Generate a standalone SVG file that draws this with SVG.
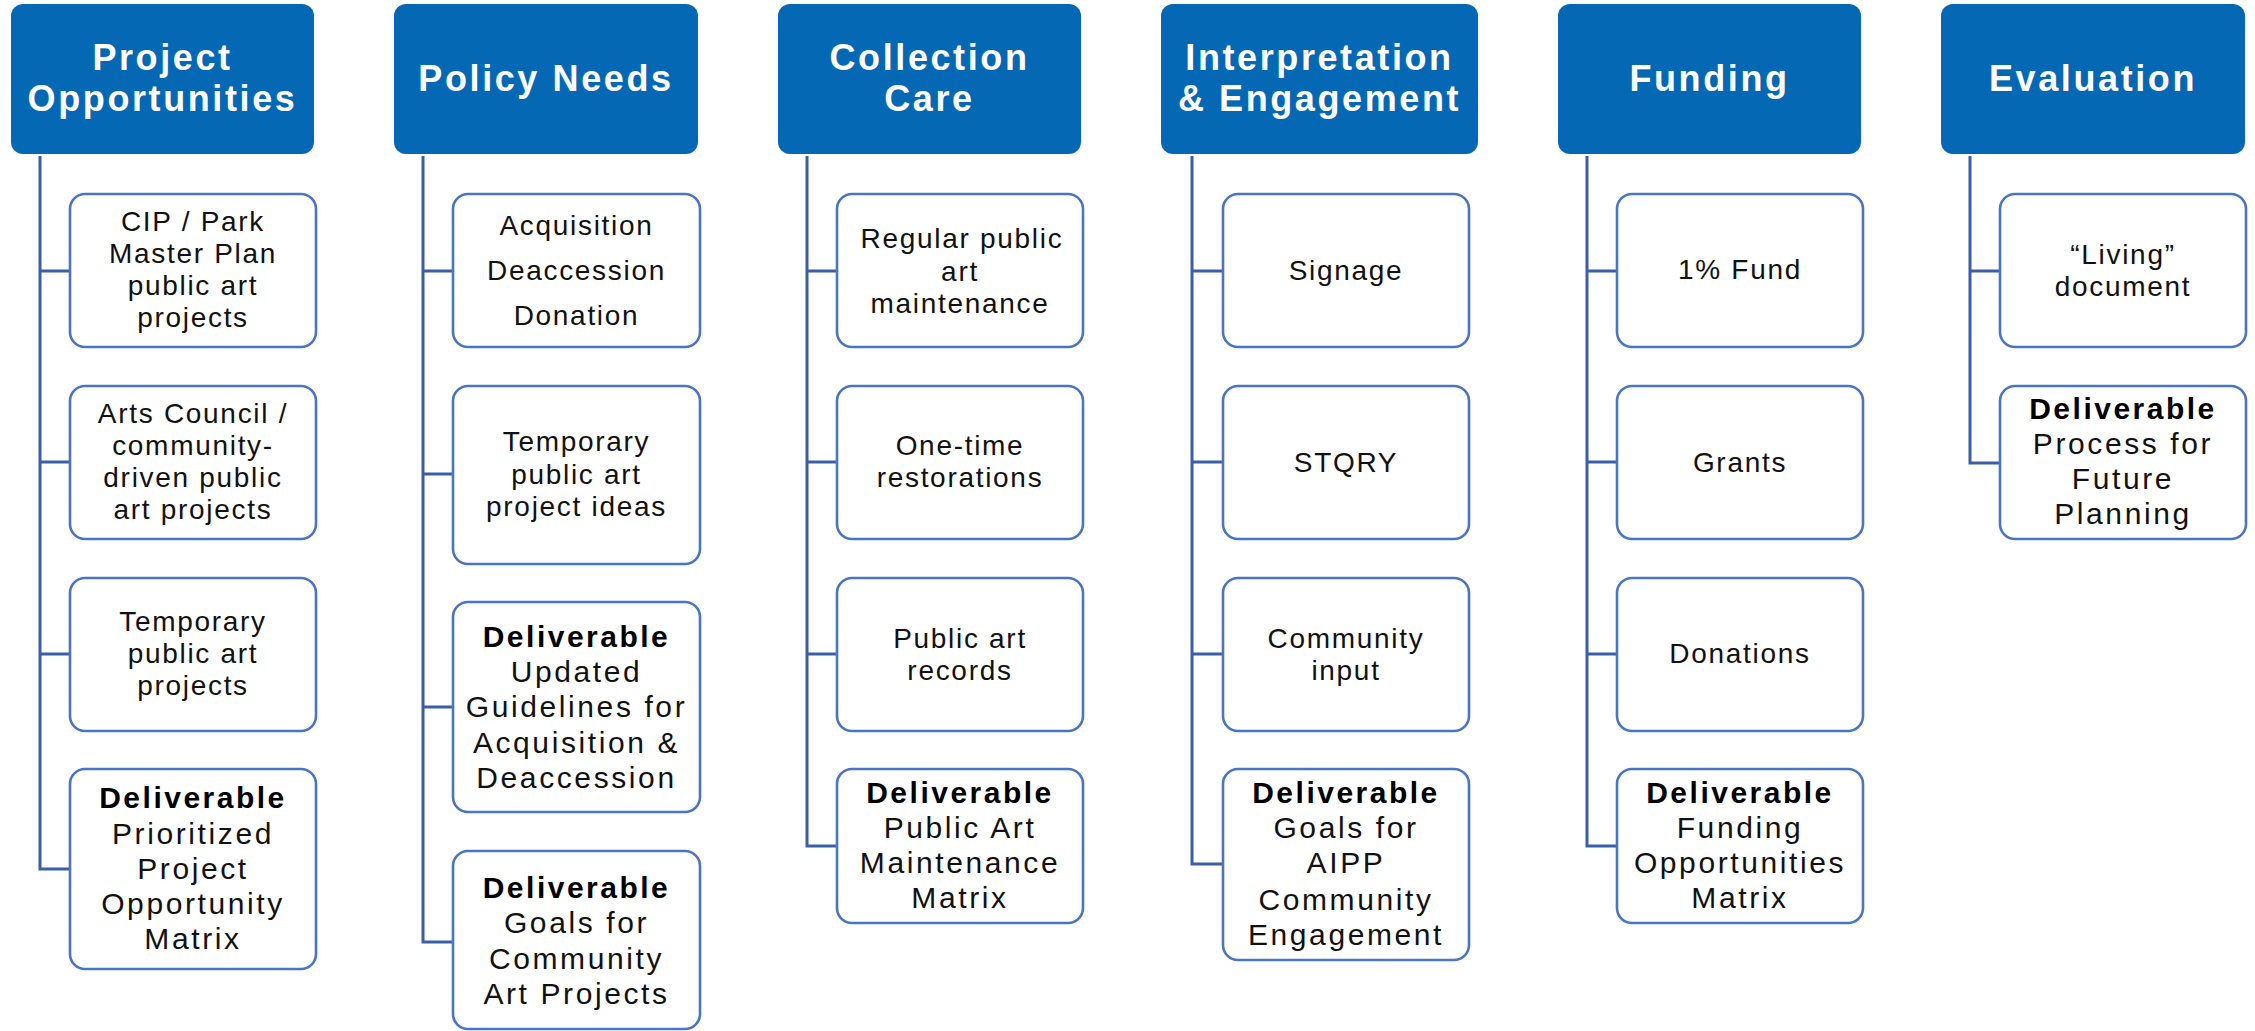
<svg xmlns="http://www.w3.org/2000/svg" width="2255" height="1031" viewBox="0 0 2255 1031">
<style>
.hdr rect{fill:#0468b4;}
.hdr text{fill:#ffffff;font-family:"Liberation Sans",Arial,sans-serif;font-weight:700;font-size:36px;letter-spacing:2.6px;text-anchor:middle;}
.box rect{fill:#ffffff;stroke:#4a74c4;stroke-width:2.6;}
.box text{fill:#111111;font-family:"Liberation Sans",Arial,sans-serif;font-size:28px;letter-spacing:1.7px;text-anchor:middle;}
.box text.d{font-size:30px;letter-spacing:2.6px;}
.box .b{font-weight:700;letter-spacing:2.5px;fill:#000;}
#connectors path{fill:none;stroke:#3c5ea8;stroke-width:3;}
</style>
<rect width="2255" height="1031" fill="#ffffff"/>
<g id="connectors">
<path d="M40 156V869H70M40 271H70M40 462H70M40 654H70"/>
<path d="M423 156V942H453M423 271H453M423 474H453M423 707H453"/>
<path d="M807 156V846H837M807 271H837M807 462H837M807 654H837"/>
<path d="M1192 156V864H1223M1192 271H1223M1192 462H1223M1192 654H1223"/>
<path d="M1587 156V846H1617M1587 271H1617M1587 462H1617M1587 654H1617"/>
<path d="M1970 156V463H2000M1970 271H2000"/>
</g>
<!-- Column 1 -->
<g id="h-project" class="hdr"><rect x="11" y="4" width="303" height="150" rx="12"/><text><tspan x="162.5" y="69.5">Project</tspan><tspan x="162.5" y="110.5">Opportunities</tspan></text></g>
<g id="n-cip" class="box"><rect x="70" y="194" width="246" height="153" rx="15"/><text><tspan x="193" y="231">CIP / Park</tspan><tspan x="193" y="263">Master Plan</tspan><tspan x="193" y="295">public art</tspan><tspan x="193" y="327">projects</tspan></text></g>
<g id="n-arts" class="box"><rect x="70" y="386" width="246" height="153" rx="15"/><text><tspan x="193" y="423">Arts Council /</tspan><tspan x="193" y="455">community-</tspan><tspan x="193" y="487">driven public</tspan><tspan x="193" y="519">art projects</tspan></text></g>
<g id="n-temp1" class="box"><rect x="70" y="578" width="246" height="153" rx="15"/><text><tspan x="193" y="631">Temporary</tspan><tspan x="193" y="663">public art</tspan><tspan x="193" y="695">projects</tspan></text></g>
<g id="n-del1" class="box"><rect x="70" y="769" width="246" height="200" rx="15"/><text class="d"><tspan class="b" x="193" y="808">Deliverable</tspan><tspan x="193" y="844">Prioritized</tspan><tspan x="193" y="879">Project</tspan><tspan x="193" y="914">Opportunity</tspan><tspan x="193" y="949">Matrix</tspan></text></g>
<!-- Column 2 -->
<g id="h-policy" class="hdr"><rect x="394" y="4" width="304" height="150" rx="12"/><text><tspan x="546" y="91">Policy Needs</tspan></text></g>
<g id="n-acq" class="box"><rect x="453" y="194" width="247" height="153" rx="15"/><text><tspan x="576.5" y="235">Acquisition</tspan><tspan x="576.5" y="280">Deaccession</tspan><tspan x="576.5" y="325">Donation</tspan></text></g>
<g id="n-temp2" class="box"><rect x="453" y="386" width="247" height="178" rx="15"/><text><tspan x="576.5" y="451">Temporary</tspan><tspan x="576.5" y="484">public art</tspan><tspan x="576.5" y="516">project ideas</tspan></text></g>
<g id="n-del2a" class="box"><rect x="453" y="602" width="247" height="210" rx="15"/><text class="d"><tspan class="b" x="576.5" y="647">Deliverable</tspan><tspan x="576.5" y="682">Updated</tspan><tspan x="576.5" y="717">Guidelines for</tspan><tspan x="576.5" y="753">Acquisition &amp;</tspan><tspan x="576.5" y="788">Deaccession</tspan></text></g>
<g id="n-del2b" class="box"><rect x="453" y="851" width="247" height="178" rx="15"/><text class="d"><tspan class="b" x="576.5" y="898">Deliverable</tspan><tspan x="576.5" y="933">Goals for</tspan><tspan x="576.5" y="969">Community</tspan><tspan x="576.5" y="1004">Art Projects</tspan></text></g>
<!-- Column 3 -->
<g id="h-collection" class="hdr"><rect x="778" y="4" width="303" height="150" rx="12"/><text><tspan x="929.5" y="69.5">Collection</tspan><tspan x="929.5" y="110.5">Care</tspan></text></g>
<g id="n-regular" class="box"><rect x="837" y="194" width="246" height="153" rx="15"/><text><tspan x="962" y="248">Regular public</tspan><tspan x="960" y="281">art</tspan><tspan x="960" y="313">maintenance</tspan></text></g>
<g id="n-onetime" class="box"><rect x="837" y="386" width="246" height="153" rx="15"/><text><tspan x="960" y="455">One-time</tspan><tspan x="960" y="487">restorations</tspan></text></g>
<g id="n-records" class="box"><rect x="837" y="578" width="246" height="153" rx="15"/><text><tspan x="960" y="648">Public art</tspan><tspan x="960" y="680">records</tspan></text></g>
<g id="n-del3" class="box"><rect x="837" y="769" width="246" height="154" rx="15"/><text class="d"><tspan class="b" x="960" y="803">Deliverable</tspan><tspan x="960" y="838">Public Art</tspan><tspan x="960" y="873">Maintenance</tspan><tspan x="960" y="908">Matrix</tspan></text></g>
<!-- Column 4 -->
<g id="h-interp" class="hdr"><rect x="1161" y="4" width="317" height="150" rx="12"/><text><tspan x="1319.5" y="69.5">Interpretation</tspan><tspan x="1319.5" y="110.5">&amp; Engagement</tspan></text></g>
<g id="n-signage" class="box"><rect x="1223" y="194" width="246" height="153" rx="15"/><text><tspan x="1346" y="280">Signage</tspan></text></g>
<g id="n-stqry" class="box"><rect x="1223" y="386" width="246" height="153" rx="15"/><text><tspan x="1346" y="472">STQRY</tspan></text></g>
<g id="n-community" class="box"><rect x="1223" y="578" width="246" height="153" rx="15"/><text><tspan x="1346" y="648">Community</tspan><tspan x="1346" y="680">input</tspan></text></g>
<g id="n-del4" class="box"><rect x="1223" y="769" width="246" height="191" rx="15"/><text class="d"><tspan class="b" x="1346" y="803">Deliverable</tspan><tspan x="1346" y="838">Goals for</tspan><tspan x="1346" y="873">AIPP</tspan><tspan x="1346" y="910">Community</tspan><tspan x="1346" y="945">Engagement</tspan></text></g>
<!-- Column 5 -->
<g id="h-funding" class="hdr"><rect x="1558" y="4" width="303" height="150" rx="12"/><text><tspan x="1709.5" y="91">Funding</tspan></text></g>
<g id="n-fund" class="box"><rect x="1617" y="194" width="246" height="153" rx="15"/><text><tspan x="1740" y="279">1% Fund</tspan></text></g>
<g id="n-grants" class="box"><rect x="1617" y="386" width="246" height="153" rx="15"/><text><tspan x="1740" y="472">Grants</tspan></text></g>
<g id="n-donations" class="box"><rect x="1617" y="578" width="246" height="153" rx="15"/><text><tspan x="1740" y="663">Donations</tspan></text></g>
<g id="n-del5" class="box"><rect x="1617" y="769" width="246" height="154" rx="15"/><text class="d"><tspan class="b" x="1740" y="803">Deliverable</tspan><tspan x="1740" y="838">Funding</tspan><tspan x="1740" y="873">Opportunities</tspan><tspan x="1740" y="908">Matrix</tspan></text></g>
<!-- Column 6 -->
<g id="h-eval" class="hdr"><rect x="1941" y="4" width="304" height="150" rx="12"/><text><tspan x="2093" y="91">Evaluation</tspan></text></g>
<g id="n-living" class="box"><rect x="2000" y="194" width="246" height="153" rx="15"/><text><tspan x="2123" y="264">“Living”</tspan><tspan x="2123" y="296">document</tspan></text></g>
<g id="n-del6" class="box"><rect x="2000" y="386" width="246" height="153" rx="15"/><text class="d"><tspan class="b" x="2123" y="419">Deliverable</tspan><tspan x="2123" y="454">Process for</tspan><tspan x="2123" y="489">Future</tspan><tspan x="2123" y="524">Planning</tspan></text></g>
</svg>
